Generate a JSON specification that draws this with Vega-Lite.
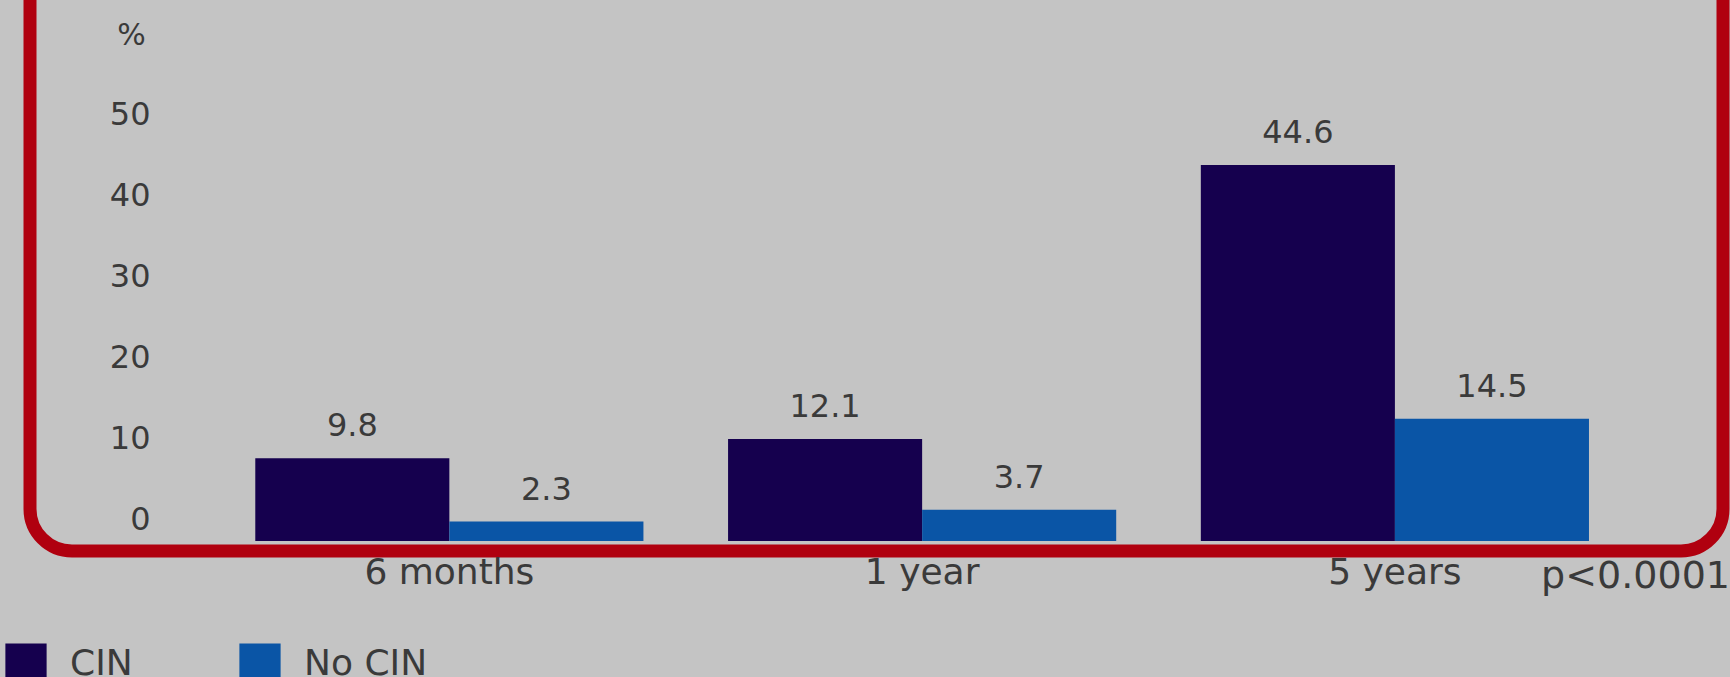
{
  "$schema": "https://vega.github.io/schema/vega-lite/v6.json",
  "autosize": {"type": "none"},
  "padding": {"left": 30, "top": -60, "right": 7, "bottom": 126},
  "width": 1693,
  "height": 611,
  "background": "#c4c4c4",
  "config": {
    "view": {"stroke": "#b0000f", "strokeWidth": 13, "cornerRadius": 42},
    "font": "DejaVu Sans"
  },
  "title": {
    "text": "p<0.0001",
    "orient": "bottom",
    "anchor": "end",
    "frame": "group",
    "fontSize": 38,
    "fontWeight": "normal",
    "color": "#3a3a3a",
    "offset": -127,
    "dx": 7
  },
  "data": {
    "values": [
      {"period": "6 months", "group": "CIN", "value": 9.8},
      {"period": "6 months", "group": "No CIN", "value": 2.3},
      {"period": "1 year", "group": "CIN", "value": 12.1},
      {"period": "1 year", "group": "No CIN", "value": 3.7},
      {"period": "5 years", "group": "CIN", "value": 44.6},
      {"period": "5 years", "group": "No CIN", "value": 14.5}
    ]
  },
  "encoding": {
    "x": {
      "field": "period",
      "type": "nominal",
      "sort": ["6 months", "1 year", "5 years"],
      "scale": {"paddingInner": 0.179, "paddingOuter": 0.38, "align": 0.627},
      "axis": {
        "title": null,
        "labelAngle": 0,
        "domain": false,
        "ticks": false,
        "tickSize": 0,
        "labelPadding": 4,
        "labelFontSize": 36,
        "labelColor": "#3a3a3a",
        "labelBaseline": "top"
      }
    },
    "xOffset": {"field": "group", "type": "nominal", "sort": ["CIN", "No CIN"], "scale": {"paddingInner": 0, "paddingOuter": 0}},
    "y": {
      "field": "value",
      "type": "quantitative",
      "scale": {"domain": [-1.19, 71.29], "nice": false, "zero": false},
      "axis": null
    }
  },
  "layer": [
    {
      "mark": {"type": "bar"},
      "encoding": {
        "color": {
          "field": "group",
          "type": "nominal",
          "scale": {"domain": ["CIN", "No CIN"], "range": ["#15004e", "#0a55a6"]},
          "legend": {
            "orient": "none",
            "legendX": -25,
            "legendY": 703,
            "direction": "horizontal",
            "title": null,
            "symbolType": "square",
            "symbolSize": 1700,
            "symbolStrokeWidth": 0,
            "symbolOpacity": 1,
            "labelFontSize": 36,
            "labelColor": "#3a3a3a",
            "labelOffset": 23,
            "columnPadding": 106,
            "padding": 0
          }
        }
      }
    },
    {
      "mark": {"type": "text", "baseline": "middle", "dy": -32, "fontSize": 32, "color": "#3a3a3a"},
      "encoding": {"text": {"field": "value", "type": "quantitative", "format": ".1f"}}
    },
    {
      "mark": {"type": "point", "opacity": 0},
      "encoding": {
        "y": {
          "field": "value",
          "type": "quantitative",
          "scale": {"domain": [-3.82, 71.43], "nice": false, "zero": false},
          "axis": {
            "orient": "left",
            "values": [0, 10, 20, 30, 40, 50],
            "grid": false,
            "domain": false,
            "ticks": false,
            "tickSize": 0,
            "offset": -120,
            "labelPadding": 0,
            "labelAlign": "right",
            "labelFontSize": 32,
            "labelColor": "#3a3a3a",
            "title": "%",
            "titleAngle": 0,
            "titleX": -19,
            "titleY": 95,
            "titleAlign": "center",
            "titleBaseline": "middle",
            "titleFontSize": 30,
            "titleFontWeight": "normal",
            "titleColor": "#3a3a3a"
          }
        }
      }
    }
  ],
  "resolve": {"scale": {"y": "independent"}, "axis": {"y": "independent"}}
}
